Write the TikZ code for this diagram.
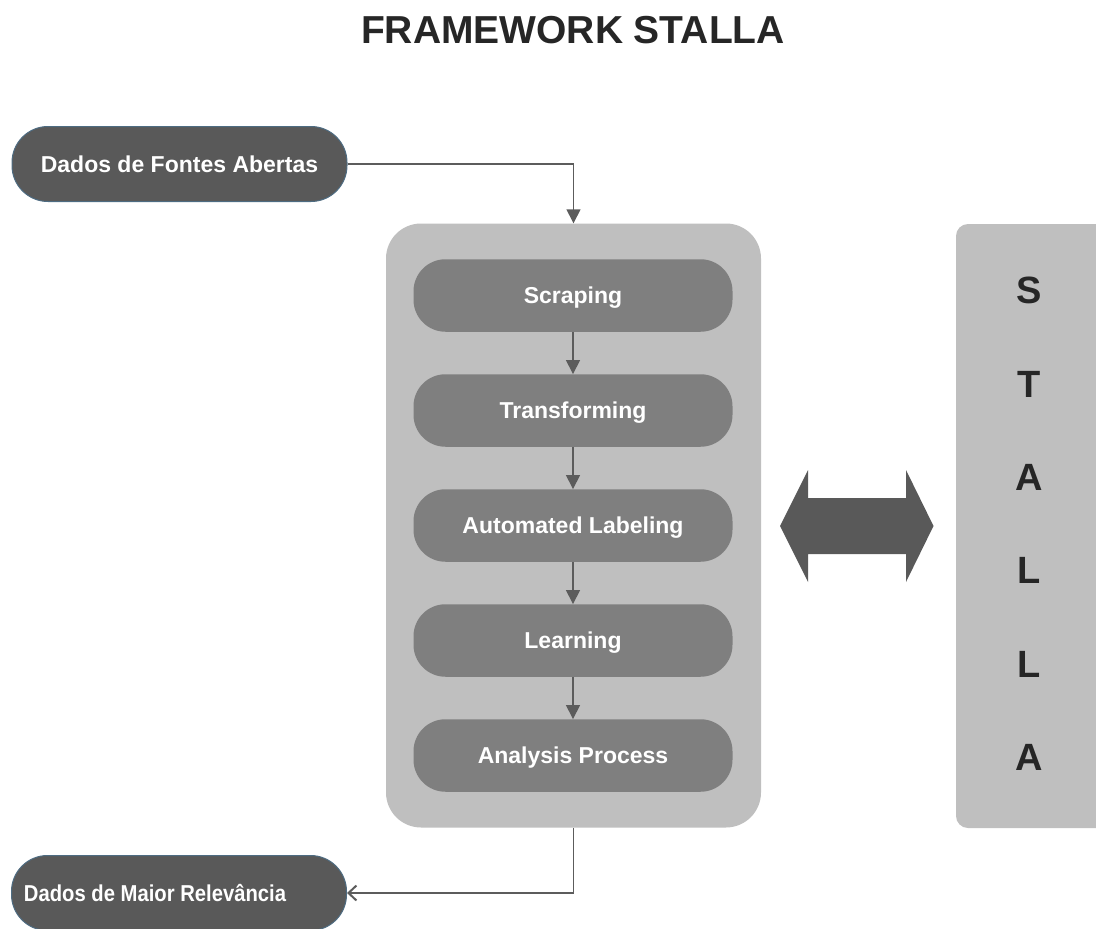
\documentclass[tikz,border=0pt]{standalone}
\usepackage{fontspec}
\setmainfont{Liberation Sans}
\usetikzlibrary{arrows.meta}
\definecolor{darkbox}{HTML}{595959}
\definecolor{midbox}{HTML}{7F7F7F}
\definecolor{lightbox}{HTML}{BFBFBF}
\definecolor{edgeblue}{HTML}{4E6C82}
\definecolor{inkgray}{HTML}{262626}
\definecolor{linegray}{HTML}{5C5C5C}
\tikzset{
    boxfont/.style={text=white, font=\bfseries\fontsize{23}{27}\selectfont, text height=16.5pt, text depth=0pt},
    databox/.style={boxfont, draw=edgeblue, line width=1pt, fill=darkbox, rounded corners=36pt, minimum width=335pt, minimum height=75pt},
    stepbox/.style={boxfont, fill=midbox, rounded corners=32pt, minimum width=319pt, minimum height=72.5pt},
    frame/.style={fill=lightbox, rounded corners=35pt, minimum width=375pt, minimum height=604pt},
    stallaletter/.style={text=inkgray, font=\bfseries\fontsize{38}{40}\selectfont, text height=27.5pt, text depth=0pt},
    flow/.style={draw=linegray, line width=1.5pt, -{Triangle[width=14pt,length=14pt]}},
    back/.style={draw=linegray, line width=1.5pt, -{Straight Barb[width=15pt,length=8pt,line width=2pt]}}
}
\begin{document}
\begin{tikzpicture}[x=1pt, y=-1pt]
        \useasboundingbox (0,0) rectangle (1096,929);
        \clip (0,0) rectangle (1096,929);
        \node[text=inkgray, font=\bfseries\fontsize{39}{44}\selectfont, text height=28pt, text depth=0pt] (title) at (573,29.5) {FRAMEWORK STALLA};

        \node[databox] (fontes) at (179.5,164) {Dados de Fontes Abertas};
        \node[frame] (stalla) at (573.5,525.5) {};
        \foreach \name/\txt [count=\i from 0] in {scr/Scraping, tra/Transforming, lab/Automated Labeling, lea/Learning, ana/Analysis Process}
            \node[stepbox] (\name) at (573,295.5+115*\i) {\txt};
        \node[databox, font=\bfseries\fontsize{23}{27}\selectfont\addfontfeature{FakeStretch=0.88}] (maior) at (179,893) {Dados de Maior Relev\^ancia\hspace*{48pt}};

        \draw[flow] (fontes.east) -| (stalla.north);
        \draw[flow] (scr) -- (tra);
        \draw[flow] (tra) -- (lab);
        \draw[flow] (lab) -- (lea);
        \draw[flow] (lea) -- (ana);
        \draw[back] (stalla.south) |- (maior.east);

        \fill[darkbox] (780,526) -- (808,470) -- (808,498) -- (906,498) -- (906,470) -- (933.5,526)
            -- (906,582) -- (906,554) -- (808,554) -- (808,582) -- cycle;

        \fill[lightbox, rounded corners=12pt] (956,224) rectangle (1120,828);
        \foreach \l [count=\i from 0] in {S,T,A,L,L,A}
            \node[stallaletter] (letter\i) at (1029,290+93.4*\i) {\l};
    \end{tikzpicture}
\end{document}
